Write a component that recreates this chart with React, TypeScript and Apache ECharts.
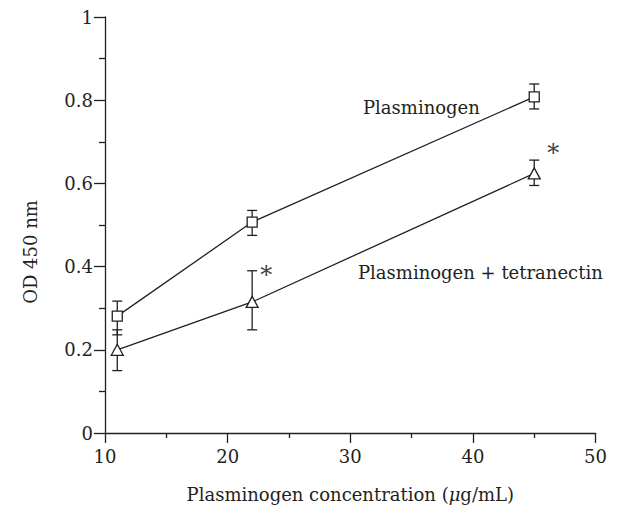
import React, { useEffect, useRef } from "react";
import * as echarts from "echarts";

const concentrations = [11, 22, 45];
const plasminogen = [0.281, 0.507, 0.808];
const plasminogenLow = [0.236, 0.475, 0.779];
const plasminogenHigh = [0.317, 0.535, 0.839];
const tetranectin = [0.2, 0.315, 0.624];
const tetranectinLow = [0.15, 0.248, 0.595];
const tetranectinHigh = [0.248, 0.39, 0.656];
const significant = [false, true, true];
const seriesNames = ["Plasminogen", "Plasminogen + tetranectin"];
const xTicks = [10, 20, 30, 40, 50];
const yTicks = [0, 0.2, 0.4, 0.6, 0.8, 1];

const FONT = "DejaVu Serif";
const INK = "#231f20";
const FS = 18;

function errorSeries(low: number[], high: number[], stars: boolean[], starOffset: number[][]) {
  return {
    type: "custom",
    silent: true,
    z: 1,
    data: concentrations.map((c, i) => [c, low[i], high[i], stars[i] ? 1 : 0, i]),
    renderItem: (params: any, api: any) => {
      const x = api.value(0);
      const lo = api.coord([x, api.value(1)]);
      const hi = api.coord([x, api.value(2)]);
      const w = 5;
      const style = { stroke: INK, lineWidth: 1.3 };
      const children: any[] = [
        { type: "line", shape: { x1: lo[0], y1: lo[1], x2: hi[0], y2: hi[1] }, style },
        { type: "line", shape: { x1: lo[0] - w, y1: lo[1], x2: lo[0] + w, y2: lo[1] }, style },
        { type: "line", shape: { x1: hi[0] - w, y1: hi[1], x2: hi[0] + w, y2: hi[1] }, style },
      ];
      if (api.value(3) === 1) {
        const off = starOffset[api.value(4)];
        children.push({
          type: "text",
          style: {
            text: "*",
            x: hi[0] + off[0],
            y: hi[1] + off[1],
            fill: "#444",
            fontFamily: FONT,
            fontSize: 24,
            align: "center",
            verticalAlign: "middle",
          },
        });
      }
      return { type: "group", children };
    },
  };
}

export default function App() {
  const ref = useRef<HTMLDivElement>(null);
  useEffect(() => {
    const chart = echarts.init(ref.current!, undefined, { renderer: "svg" });
    const axisText = { color: INK, fontFamily: FONT, fontSize: FS };
    chart.setOption({
      animation: false,
      backgroundColor: "#fff",
      grid: { left: 97, right: 13, top: 6, bottom: 67 },
      xAxis: {
        type: "value",
        min: xTicks[0],
        max: xTicks[xTicks.length - 1],
        interval: 10,
        splitLine: { show: false },
        axisLine: { lineStyle: { color: INK, width: 1.3 } },
        axisTick: { length: 10, lineStyle: { color: INK, width: 1.3 } },
        minorTick: { show: true, splitNumber: 2, length: 5, lineStyle: { color: INK, width: 1.3 } },
        axisLabel: { ...axisText, margin: 14 },
        name: "Plasminogen concentration ({i|μ}g/mL)",
        nameLocation: "middle",
        nameGap: 52,
        nameTextStyle: {
          ...axisText,
          rich: { i: { ...axisText, fontStyle: "italic" } },
        },
      },
      yAxis: {
        type: "value",
        min: yTicks[0],
        max: yTicks[yTicks.length - 1],
        interval: 0.2,
        splitLine: { show: false },
        axisLine: { show: true, lineStyle: { color: INK, width: 1.3 } },
        axisTick: { show: true, length: 11, lineStyle: { color: INK, width: 1.3 } },
        minorTick: { show: true, splitNumber: 2, length: 6, lineStyle: { color: INK, width: 1.3 } },
        axisLabel: {
          ...axisText,
          margin: 12,
          formatter: (v: number) => (v === 0 || v === 1 ? String(v) : v.toFixed(1)),
        },
        name: "OD 450 nm",
        nameLocation: "middle",
        nameGap: 66,
        nameTextStyle: { ...axisText, padding: [0, 0, 0, -54] },
      },
      series: [
        errorSeries(plasminogenLow, plasminogenHigh, [false, false, false], [[0, 0], [0, 0], [0, 0]]),
        errorSeries(tetranectinLow, tetranectinHigh, significant, [[0, 0], [14, 4], [19, -7]]),
        {
          name: seriesNames[0],
          type: "line",
          z: 3,
          data: concentrations.map((c, i) => [c, plasminogen[i]]),
          symbol: "rect",
          symbolSize: 10,
          lineStyle: { color: INK, width: 1.3 },
          itemStyle: { color: "#fff", borderColor: INK, borderWidth: 1.3 },
        },
        {
          name: seriesNames[1],
          type: "line",
          z: 3,
          data: concentrations.map((c, i) => [c, tetranectin[i]]),
          symbol: "triangle",
          symbolSize: [12, 11],
          lineStyle: { color: INK, width: 1.3 },
          itemStyle: { color: "#fff", borderColor: INK, borderWidth: 1.3 },
        },
      ],
      graphic: [
        {
          type: "text",
          left: 355,
          top: 90,
          style: { text: seriesNames[0], fill: INK, fontFamily: FONT, fontSize: FS },
        },
        {
          type: "text",
          left: 350,
          top: 255,
          style: { text: seriesNames[1], fill: INK, fontFamily: FONT, fontSize: FS },
        },
      ],
    });
    return () => chart.dispose();
  }, []);
  return <div ref={ref} style={{ width: 602, height: 500 }} />;
}
